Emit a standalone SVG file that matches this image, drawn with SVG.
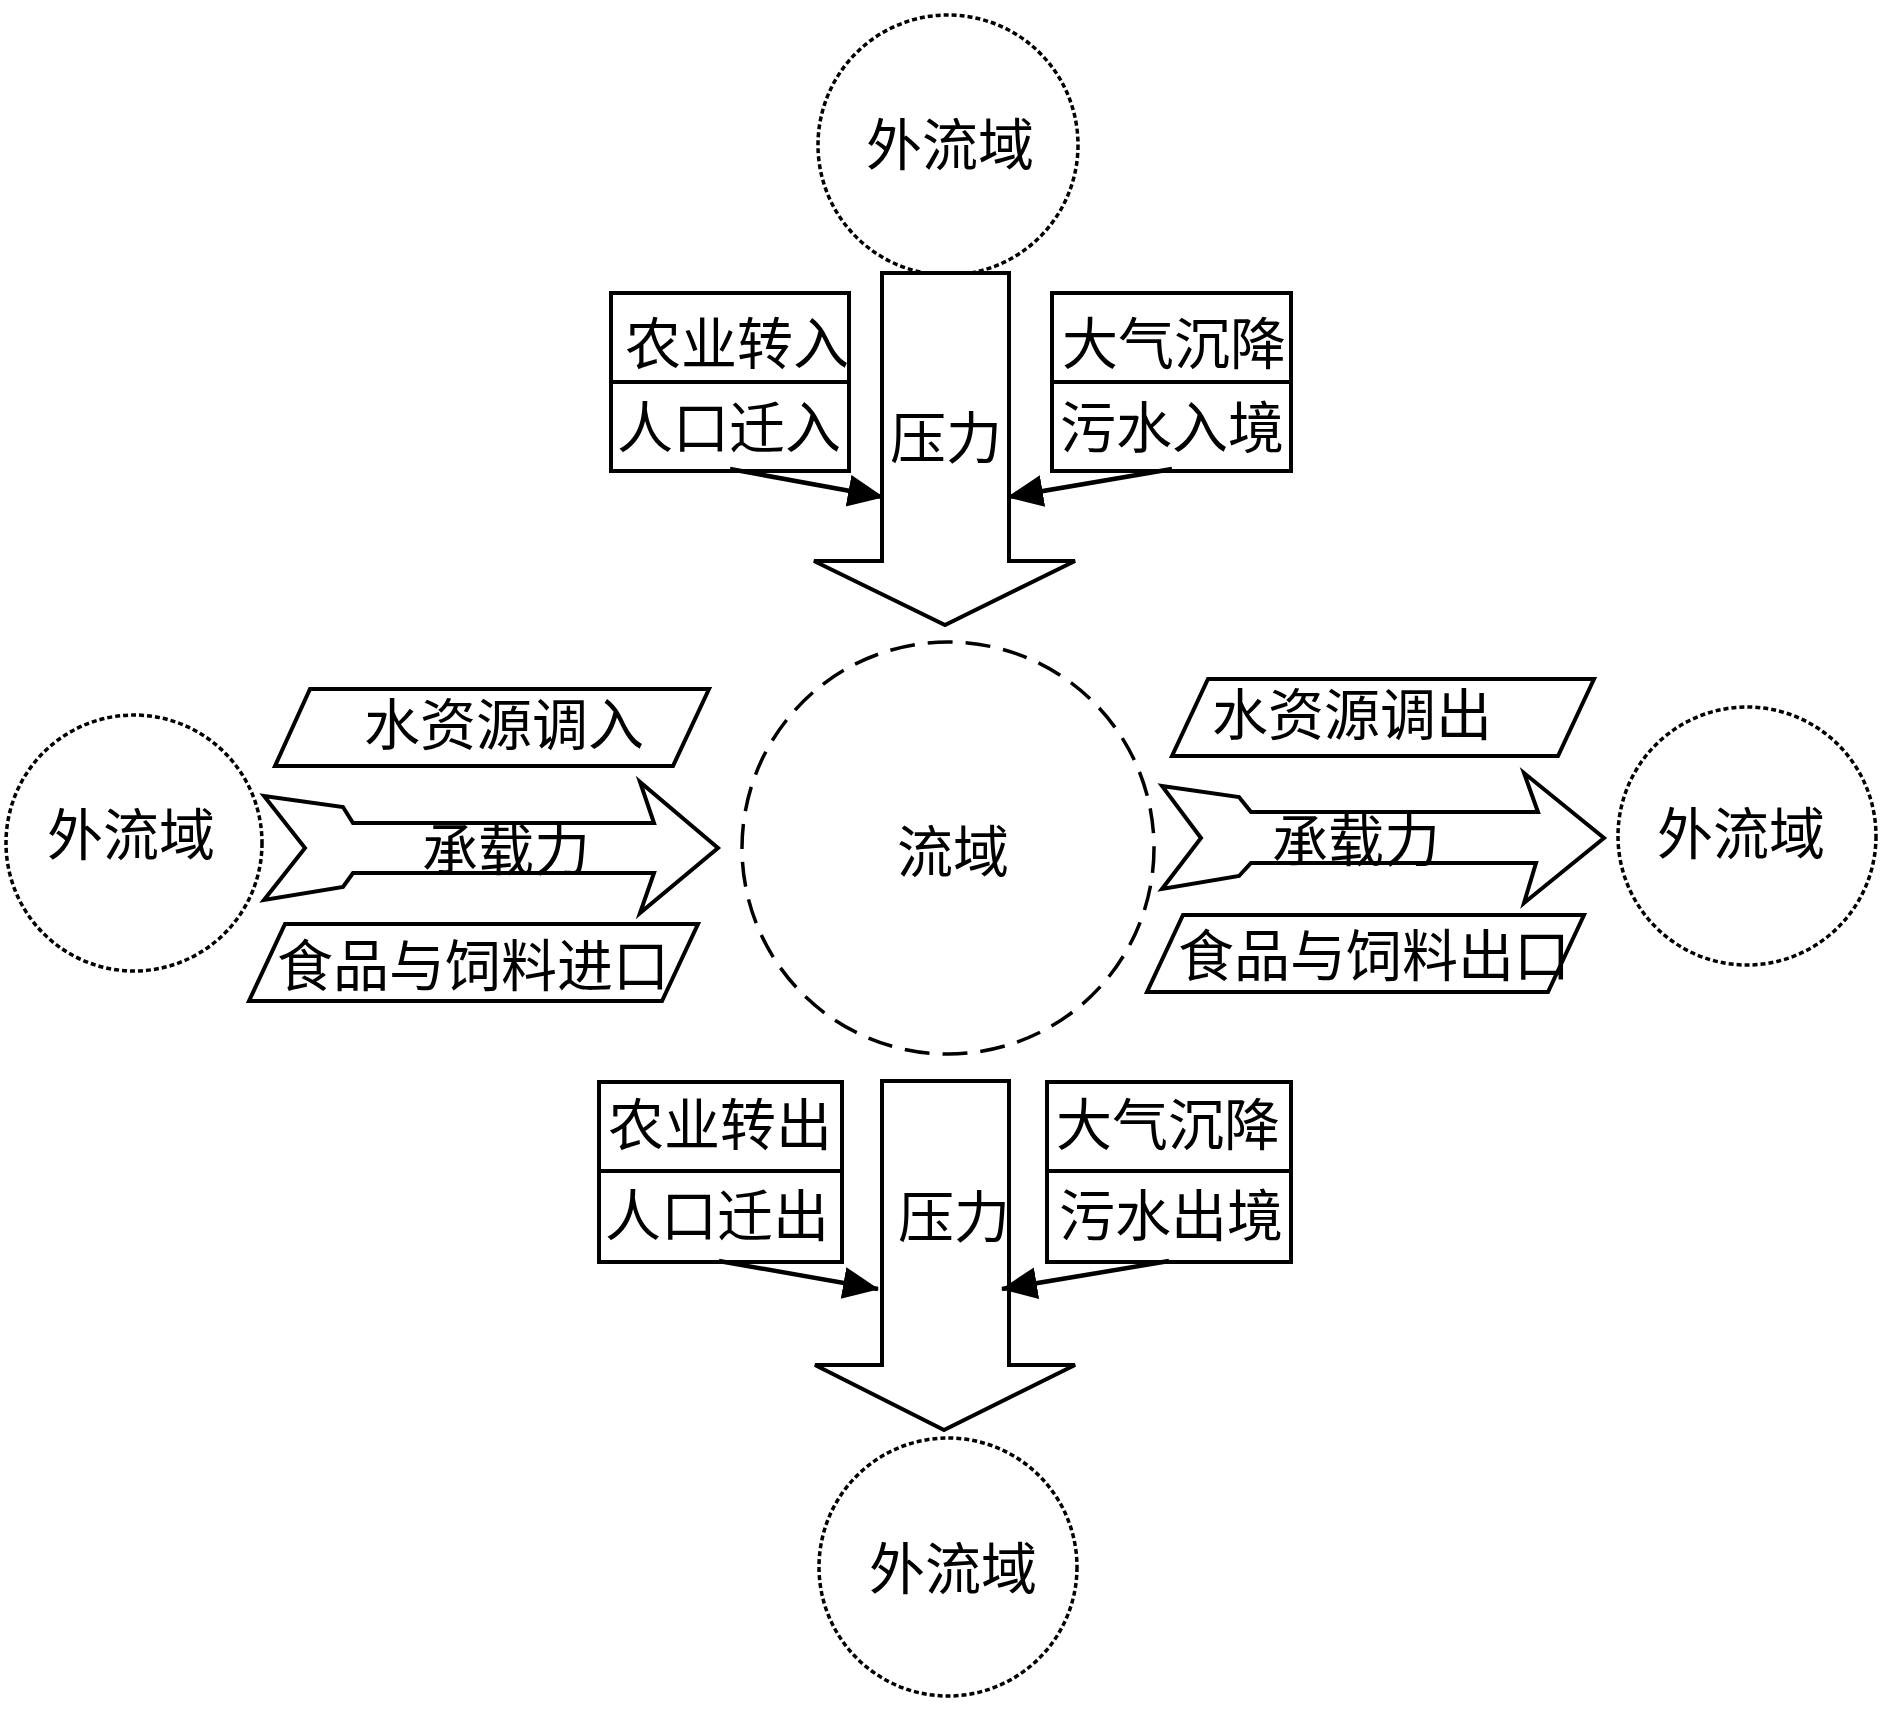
<svg xmlns="http://www.w3.org/2000/svg" width="1890" height="1724" viewBox="0 0 1890 1724">
<style>
.t{font-family:"Liberation Serif","Noto Sans CJK SC",serif;font-size:56px;text-anchor:middle;fill:#000}
.s{fill:#fff;stroke:#000;stroke-width:4;stroke-linejoin:miter}
.outer{fill:#fff;stroke:#000;stroke-width:3.5;stroke-dasharray:5 3}
.center{fill:#fff;stroke:#000;stroke-width:3.5;stroke-dasharray:25 13}
.c{stroke:#000;stroke-width:4.5;fill:none}
</style>
<defs>
<marker id="ah" markerUnits="userSpaceOnUse" markerWidth="36" markerHeight="36" viewBox="0 0 36 36" refX="35" refY="18" orient="auto">
<path d="M0,2 L36,18 L0,34 Z" fill="#000"/>
</marker>
</defs>
<rect width="1890" height="1724" fill="#fff"/>

<g id="outer-top"><circle class="outer" cx="948" cy="145" r="130"/><text class="t" x="950" y="165">外流域</text></g>
<g id="outer-left"><circle class="outer" cx="134" cy="843" r="128"/><text class="t" x="131" y="855">外流域</text></g>
<g id="outer-right"><circle class="outer" cx="1747" cy="836" r="129"/><text class="t" x="1741" y="854">外流域</text></g>
<g id="outer-bottom"><circle class="outer" cx="948" cy="1567" r="129"/><text class="t" x="953" y="1589">外流域</text></g>

<g id="basin"><circle class="center" cx="948" cy="848" r="206"/><text class="t" x="953" y="872">流域</text></g>

<g id="pressure-top"><path class="s" d="M882,273 L1009,273 L1009,561 L1075,561 L945,625 L814,561 L882,561 Z"/><text class="t" x="946" y="458">压力</text></g>
<g id="pressure-bottom"><path class="s" d="M882,1081 L1009,1081 L1009,1365 L1075,1365 L944,1430 L815,1365 L882,1365 Z"/><text class="t" x="954" y="1237">压力</text></g>

<g id="box-agri-in"><rect class="s" x="611" y="293" width="238" height="89"/><text class="t" x="737" y="364">农业转入</text></g>
<g id="box-pop-in"><rect class="s" x="611" y="382" width="238" height="89"/><text class="t" x="729" y="448">人口迁入</text></g>
<g id="box-atm-top"><rect class="s" x="1052" y="293" width="239" height="89"/><text class="t" x="1174" y="364">大气沉降</text></g>
<g id="box-sew-in"><rect class="s" x="1052" y="382" width="239" height="89"/><text class="t" x="1172" y="448">污水入境</text></g>

<g id="box-agri-out"><rect class="s" x="599" y="1082" width="243" height="89"/><text class="t" x="720" y="1145">农业转出</text></g>
<g id="box-pop-out"><rect class="s" x="599" y="1171" width="243" height="91"/><text class="t" x="717" y="1236">人口迁出</text></g>
<g id="box-atm-bottom"><rect class="s" x="1047" y="1082" width="244" height="89"/><text class="t" x="1168" y="1145">大气沉降</text></g>
<g id="box-sew-out"><rect class="s" x="1047" y="1171" width="244" height="91"/><text class="t" x="1171" y="1236">污水出境</text></g>

<g id="water-in"><path class="s" d="M310,689 L709,689 L673,766 L275,766 Z"/><text class="t" x="504" y="745">水资源调入</text></g>
<g id="food-in"><path class="s" d="M285,924 L698,924 L662,1001 L249,1001 Z"/><text class="t" x="473" y="986">食品与饲料进口</text></g>
<g id="capacity-left"><path class="s" d="M264,796 L343,807 L353,823 L654,823 L640,782 L718,848 L640,913 L654,873 L353,873 L343,887 L264,900 L305,848 Z"/><text class="t" x="506" y="870">承载力</text></g>

<g id="water-out"><path class="s" d="M1208,679 L1594,679 L1558,756 L1172,756 Z"/><text class="t" x="1352" y="735">水资源调出</text></g>
<g id="food-out"><path class="s" d="M1183,915 L1584,915 L1548,992 L1147,992 Z"/><text class="t" x="1374" y="976">食品与饲料出口</text></g>
<g id="capacity-right"><path class="s" d="M1162,786 L1239,797 L1251,812 L1538,812 L1524,773 L1604,838 L1524,903 L1536,863 L1251,863 L1239,876 L1162,889 L1201,838 Z"/><text class="t" x="1356" y="861">承载力</text></g>

<g id="connectors">
<line class="c" x1="730" y1="469" x2="883" y2="497" marker-end="url(#ah)"/>
<line class="c" x1="1172" y1="469" x2="1008" y2="497" marker-end="url(#ah)"/>
<line class="c" x1="719" y1="1261" x2="878" y2="1289" marker-end="url(#ah)"/>
<line class="c" x1="1169" y1="1261" x2="1002" y2="1289" marker-end="url(#ah)"/>
</g>
</svg>
